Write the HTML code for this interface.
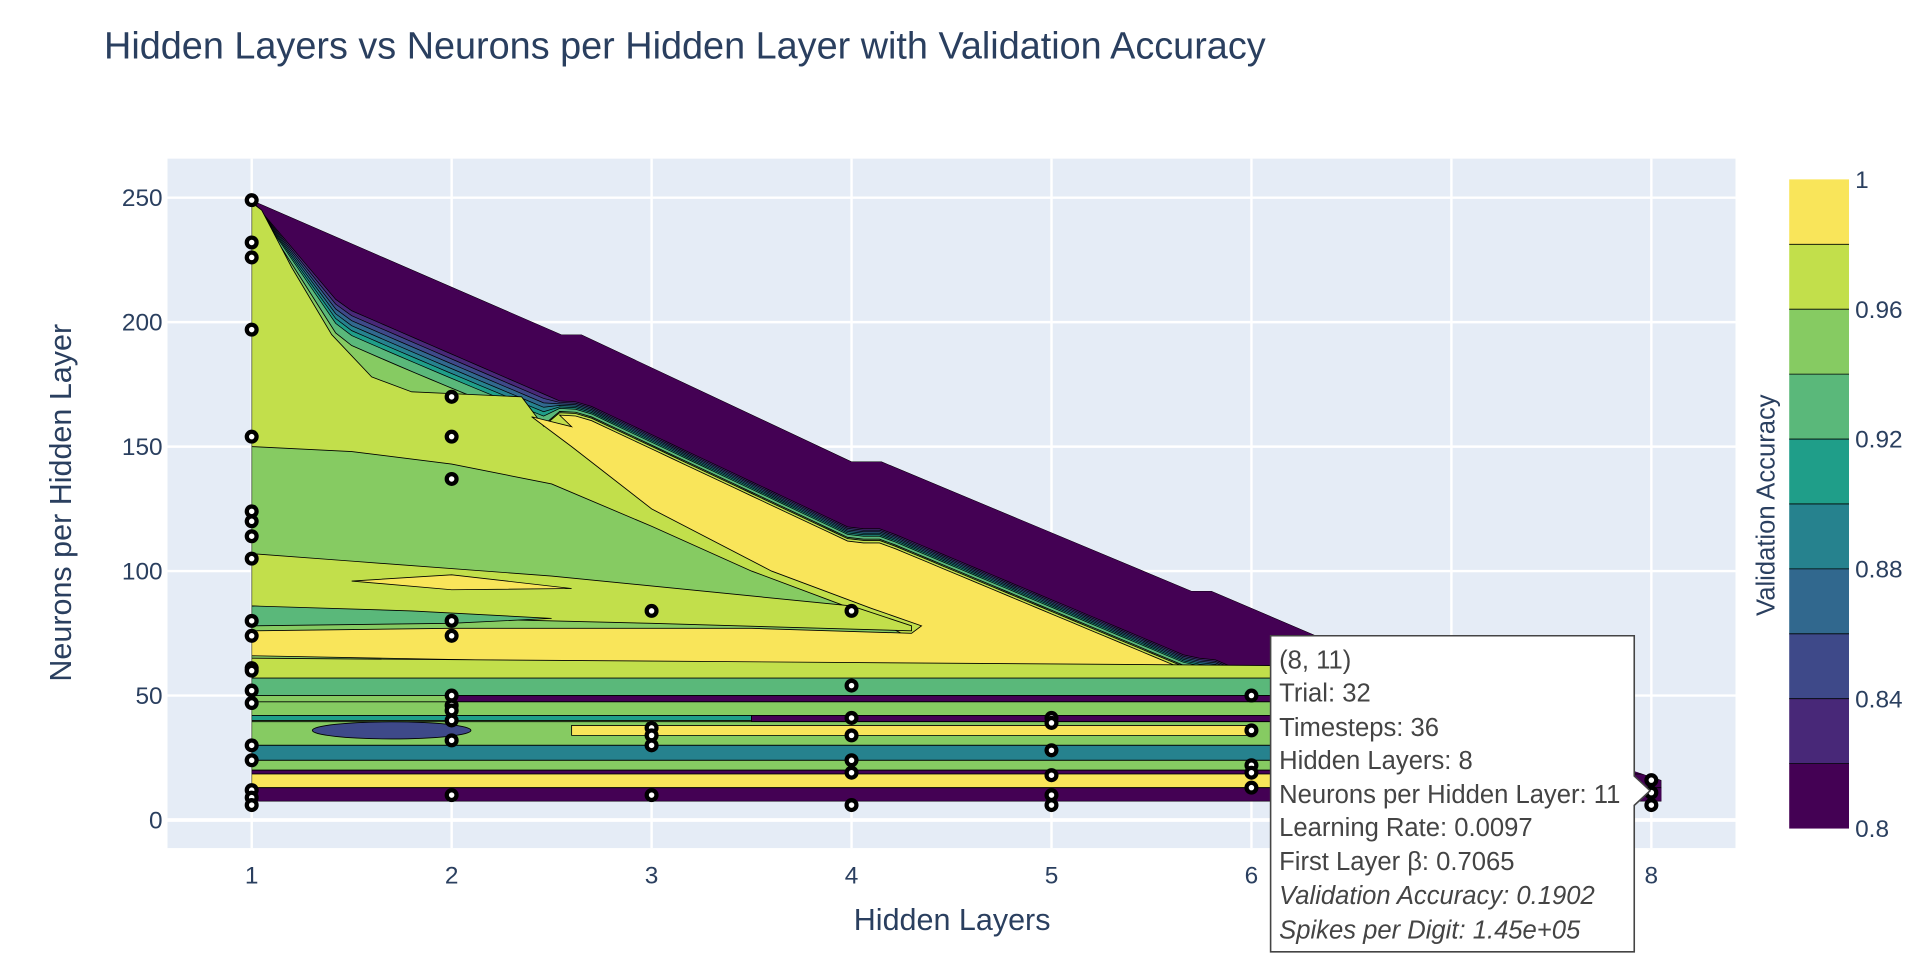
<!DOCTYPE html>
<html><head><meta charset="utf-8"><style>
html,body{margin:0;padding:0;background:#fff;}
svg{display:block;font-family:"Liberation Sans",sans-serif;}
</style></head><body>
<svg id="chart" width="1914" height="964" viewBox="0 0 1568 790" xmlns="http://www.w3.org/2000/svg">
<defs><clipPath id="hullclip"><polygon id="hullpoly"></polygon></clipPath></defs>
<text x="85" y="48" font-size="31" fill="#2a3f5f">Hidden Layers vs Neurons per Hidden Layer with Validation Accuracy</text>
<rect x="137" y="130" width="1285" height="565" fill="#e5ecf6"/>
<g id="grid"></g>
<g id="contours" clip-path="url(#hullclip)"></g>
<g id="points"></g>
<g id="xticks" font-size="20" fill="#2a3f5f" text-anchor="middle"></g>
<g id="yticks" font-size="20" fill="#2a3f5f" text-anchor="end"></g>
<text x="780" y="762" font-size="25" fill="#2a3f5f" text-anchor="middle">Hidden Layers</text>
<text transform="translate(58,412) rotate(-90)" font-size="25" fill="#2a3f5f" text-anchor="middle">Neurons per Hidden Layer</text>
<g id="colorbar"></g>
<text transform="translate(1454,414) rotate(-90)" font-size="21" fill="#2a3f5f" text-anchor="middle">Validation Accuracy</text>
<g>
<path d="M1041,521 H1339 V636 L1352,648 L1339,660 V780 H1041 Z" fill="#fff" stroke="#444" stroke-width="1.3"/>
<g font-size="21" fill="#444">
<text x="1048" y="548">(8, 11)</text>
<text x="1048" y="575">Trial: 32</text>
<text x="1048" y="603">Timesteps: 36</text>
<text x="1048" y="630">Hidden Layers: 8</text>
<text x="1048" y="658">Neurons per Hidden Layer: 11</text>
<text x="1048" y="685">Learning Rate: 0.0097</text>
<text x="1048" y="713">First Layer β: 0.7065</text>
<text x="1048" y="741" font-style="italic">Validation Accuracy: 0.1902</text>
<text x="1048" y="769" font-style="italic">Spikes per Digit: 1.45e+05</text>
</g></g>
</svg>
<script>
const xTicks=[1,2,3,4,5,6,7,8];
const yTicks=[0,50,100,150,200,250];
const cbTicks=[0.8,0.84,0.88,0.92,0.96,1];
const levels=[0.8,0.82,0.84,0.86,0.88,0.9,0.92,0.94,0.96,0.98,1];
const levelColors=['#440154','#482878','#3e4989','#31688e','#26828e','#1f9e89','#5ab87a','#86cb62','#c2df4b','#f9e55a'];
const ptX=[1,1,1,1,1,1,1,1,1,1,1,1,1,1,1,1,1,1,1,1,2,2,2,2,2,2,2,2,2,2,2,3,3,3,3,3,4,4,4,4,4,4,4,5,5,5,5,5,5,6,6,6,6,6,8,8,8];
const ptY=[249,232,226,197,154,124,120,114,105,80,74,61,60,52,47,30,24,12,9,6,170,154,137,80,74,50,46,44,40,32,10,84,37,34,30,10,84,54,41,34,24,19,6,41,39,28,18,10,6,50,36,22,19,13,16,11,6];
const hullX=[1,2.55,2.65,4.0,4.15,5.7,5.8,7.9,8.05,8.05,1];
const hullY=[249,195,195,144,144,92,92,20,16,7.5,7.5];
(function(){
const NS='http://www.w3.org/2000/svg';
const X=v=>206+(v-1)*163.86, Y=v=>672-v*2.04;
function el(tag,attrs,parent){const e=document.createElementNS(NS,tag);for(const k in attrs)e.setAttribute(k,attrs[k]);parent.appendChild(e);return e;}
const topY=x=>{for(let i=0;i<7;i++){if(x<=hullX[i+1]){const t=(x-hullX[i])/((hullX[i+1]-hullX[i])||1);return hullY[i]+t*(hullY[i+1]-hullY[i]);}}return 20;};
const inner=x=>topY(x)-Math.min(27,(x-1)*60);
const ew=x=>x<1.1?0:(x<2.5?Math.min(1,(x-1.1)*3)*(1-(x-1.6)*(x-1.6)*0.2)*3+1:1.2);
const pts=(xs,ys)=>xs.map((x,i)=>X(x)+','+Y(ys[i])).join(' ');
const grid=document.getElementById('grid');
xTicks.forEach(t=>{const l=el('line',{x1:X(t),x2:X(t),y1:130,y2:695,stroke:'#fff','stroke-width':2},grid);

});
yTicks.forEach(t=>{const l=el('line',{x1:137,x2:1422,y1:Y(t),y2:Y(t),stroke:'#fff','stroke-width':t===0?3:2},grid);

});
document.getElementById('hullpoly').setAttribute('points',pts(hullX,hullY));
const C=document.getElementById('contours');
function poly(xs,ys,ci,name,sw){const p=el('polygon',{points:pts(xs,ys),fill:levelColors[ci],stroke:'#000','stroke-width':sw===undefined?0.7:sw},C);

return p;}
function band(x0,x1,y0,y1,ci,name){poly([x0,x1,x1,x0],[y0,y0,y1,y1],ci,name);}
poly(hullX,hullY,0,'hull-low-region');
const ix=[],iy=[];for(let x=1.02;x<=7.6;x+=0.08){ix.push(x);iy.push(inner(x));}
[1,2,3,4,5,6].forEach((ci,k)=>{
  poly([1].concat(ix,[7.6,1]),[249].concat(iy.map((v,i)=>v-ew(ix[i])*k/2),[8,8]),ci,'edge-band-'+ci,0.6);
});
poly([1].concat(ix,[7.6,1]),[249].concat(iy.map((v,i)=>v-ew(ix[i])*3.5),[8,8]),7,'mid-green-region');
const lgx=[1,1.05,1.2,1.4,1.6,1.8,2.35],lgy=[248,245,222,195,178,172,170];
const ix2=ix.filter(x=>x>2.4),iy2=ix2.map(x=>inner(x)-ew(x)*3.5-0.5);
poly(lgx.concat(ix2,[6.4,4.3,4,3.5,3,2.5,2,1.5,1]),lgy.concat(iy2,[52,73,85,100,118,135,143,148,150]),8,'light-green-region');
const ix3=ix.filter(x=>x>2.5&&x<6.3),iy3=ix3.map(x=>inner(x)-ew(x)*3.5-1.5);
poly([2.4,2.6].concat(ix3,[6.3,5.5,4.5,3,1,1,2,3.5,4.3,4.35,4.1,3.6,3.0,2.6]),[162,158].concat(iy3,[52,56,60,63,66,76,77,77,75,78,85,100,125,150]),9,'high-accuracy-wedge');
poly([1,1.5,2.5,3.5,4,4.3,4.3,3,2,1],[107,104,98,90,86,78,76,79,81,86],8,'light-green-band');
poly([1,1.8,2.5,2,1],[86,84,81,79,78],6,'teal-band');
poly([1.5,2,2.6,2],[96,98.5,93,92.5],9,'yellow-blob');
poly([1,4,5,6.2,6.2,1],[57,57,57,57,62,65],8,'band-57');
band(1,6.3,50,57,6,'band-50');
band(2,7,47.5,50,0,'stripe-48');
band(1,7.2,42,47.5,7,'band-42');
band(1,3.5,40,42,5,'band-40');
band(3.5,7,39.5,42,0,'stripe-40');
band(1,7.2,30,39.5,7,'band-30');
band(2.6,6,34,38,9,'band-34');
band(1,7.2,24,30,4,'band-24');
band(1,7.2,20,24,7,'band-20');
band(1,8,18.5,20,0,'stripe-19');
band(1,6.5,13,18.5,9,'band-13');
band(1,8.1,7.5,13,0,'band-low');
const blob=el('ellipse',{cx:X(1.7),cy:Y(36),rx:65,ry:7,fill:levelColors[2],stroke:'#000','stroke-width':0.7},C);


const P=document.getElementById('points');
ptX.forEach((x,i)=>{const c=el('circle',{cx:X(x),cy:Y(ptY[i]),r:4,fill:'#fff',stroke:'#000','stroke-width':3.5},P);

});
const xt=document.getElementById('xticks');
xTicks.forEach(t=>{const e=el('text',{x:X(t),y:724},xt);e.textContent=t;

});
const yt=document.getElementById('yticks');
yTicks.forEach(t=>{const e=el('text',{x:133,y:Y(t)+7},yt);e.textContent=t;

});
const cb=document.getElementById('colorbar');
const CB=v=>679-(v-0.8)/0.2*532;
for(let i=0;i<10;i++){const r=el('rect',{x:1466,y:CB(levels[i+1]),width:49,height:CB(levels[i])-CB(levels[i+1]),fill:levelColors[i]},cb);


 if(i>0){const l=el('line',{x1:1466,x2:1515,y1:CB(levels[i]),y2:CB(levels[i]),stroke:'#000','stroke-width':0.7},cb);

}}
cbTicks.forEach(t=>{const e=el('text',{x:1520,y:CB(t)+7,'font-size':20,fill:'#2a3f5f'},cb);e.textContent=t===1?'1':(t===0.8?'0.8':t.toFixed(2));

});
})();
</script>
</body></html>
